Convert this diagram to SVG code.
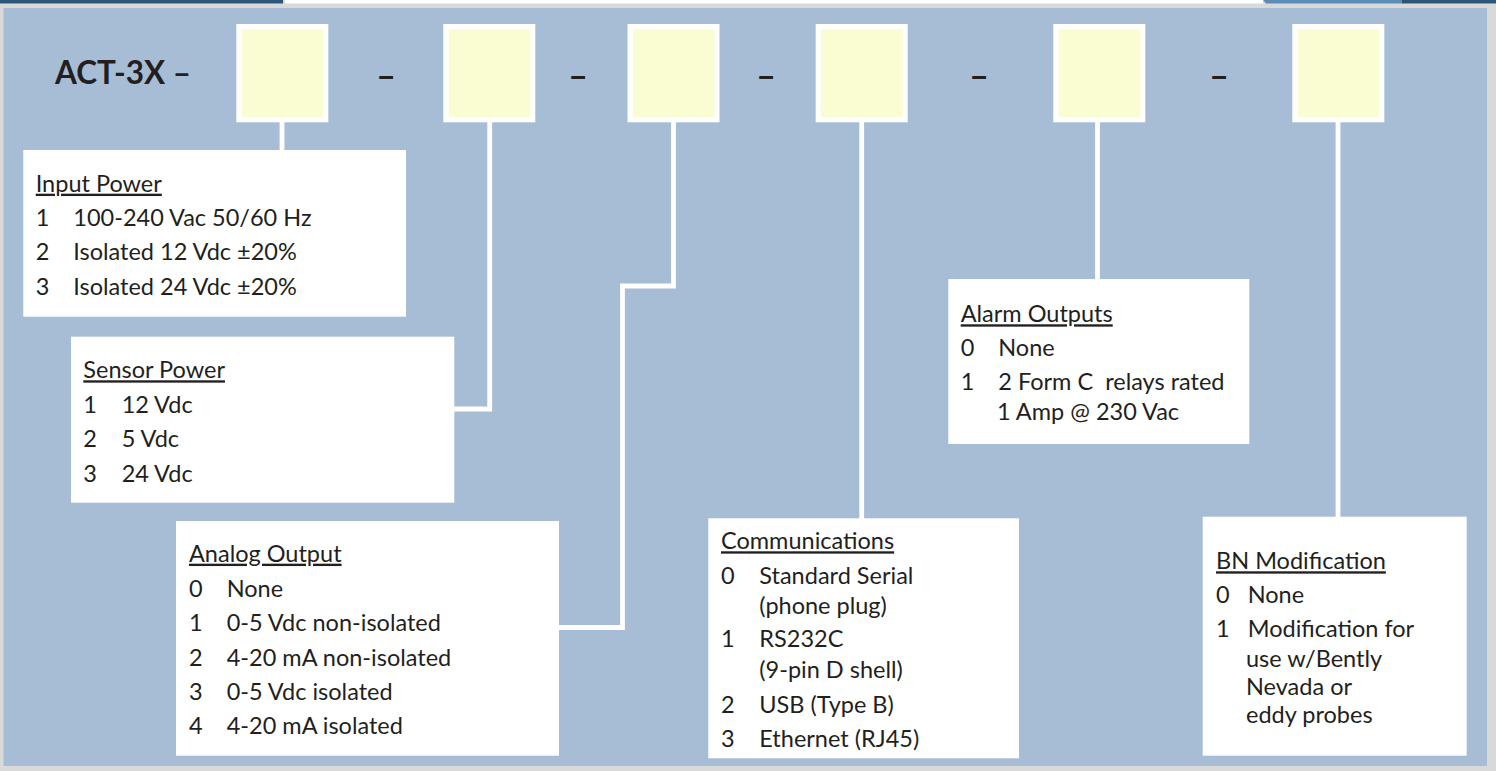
<svg xmlns="http://www.w3.org/2000/svg" width="1496" height="771" viewBox="0 0 1496 771">
<style>
.t{font-family:Lato,"Liberation Sans",sans-serif;font-size:23.5px;fill:#231f20}
.h{text-decoration:underline}
.b{font-family:Lato,"Liberation Sans",sans-serif;font-weight:bold;fill:#231f20}
.code{fill:#ffffff}
.slot{fill:#fafcd2}
.box{fill:#ffffff}
.con{fill:none;stroke:#ffffff;stroke-width:4.8}
</style>
<rect x="0" y="0" width="1496" height="771" fill="#d9d9d9"/>
<rect x="0" y="0" width="283" height="3.5" fill="#2d5577"/>
<rect x="285" y="0" width="978" height="3.5" fill="#ffffff"/>
<polygon points="1263,0 1402,0 1402,3.5 1266,3.5" fill="#5b8db8"/>
<rect x="1402" y="0" width="94" height="3.5" fill="#2d5577"/>
<rect x="3.5" y="8" width="1483.5" height="758" fill="#a7bdd5"/>
<text class="b" x="55" y="84" font-size="31.5">ACT-3X –</text>
<g id="dashes" class="b" font-size="34" text-anchor="middle">
<text x="386" y="88">–</text>
<text x="578" y="88">–</text>
<text x="766" y="88">–</text>
<text x="979" y="88">–</text>
<text x="1219" y="88">–</text>
</g>
<g id="connectors">
<path class="con" d="M282,120 V152"/>
<path class="con" d="M489.7,120 V409 H452"/>
<path class="con" d="M673.5,120 V286 H622.5 V627.5 H557"/>
<path class="con" d="M861.7,120 V520"/>
<path class="con" d="M1097.5,120 V281"/>
<path class="con" d="M1338,113 V519"/>
</g>
<g id="slot1"><rect class="code" x="236.3" y="24" width="92" height="98.3"/><rect class="slot" x="241.7" y="29.3" width="81.6" height="88"/></g>
<g id="slot2"><rect class="code" x="443.3" y="24" width="92" height="98.3"/><rect class="slot" x="448.7" y="29.3" width="81.6" height="88"/></g>
<g id="slot3"><rect class="code" x="627.5" y="24" width="92" height="98.3"/><rect class="slot" x="632.9" y="29.3" width="81.6" height="88"/></g>
<g id="slot4"><rect class="code" x="815.7" y="24" width="92" height="98.3"/><rect class="slot" x="821.1" y="29.3" width="81.6" height="88"/></g>
<g id="slot5"><rect class="code" x="1053.3" y="24" width="92" height="98.3"/><rect class="slot" x="1058.7" y="29.3" width="81.6" height="88"/></g>
<g id="slot6"><rect class="code" x="1292.3" y="24" width="92" height="98.3"/><rect class="slot" x="1297.7" y="29.3" width="81.6" height="88"/></g>
<g id="input-power">
<rect class="box" x="23.3" y="150" width="382.7" height="166.7"/>
<text class="t h" x="35.7" y="191.7">Input Power</text>
<text class="t" x="35.7" y="226">1</text><text class="t" x="73.3" y="226">100-240 Vac 50/60 Hz</text>
<text class="t" x="35.7" y="260">2</text><text class="t" x="73.3" y="260">Isolated 12 Vdc ±20%</text>
<text class="t" x="35.7" y="295">3</text><text class="t" x="73.3" y="295">Isolated 24 Vdc ±20%</text>
</g>
<g id="sensor-power">
<rect class="box" x="71" y="336.7" width="383.3" height="166"/>
<text class="t h" x="83.3" y="378.3">Sensor Power</text>
<text class="t" x="83.3" y="412.7">1</text><text class="t" x="121.7" y="412.7">12 Vdc</text>
<text class="t" x="83.3" y="446.7">2</text><text class="t" x="121.7" y="446.7">5 Vdc</text>
<text class="t" x="83.3" y="481.7">3</text><text class="t" x="121.7" y="481.7">24 Vdc</text>
</g>
<g id="analog-output">
<rect class="box" x="176" y="521" width="383" height="234.7"/>
<text class="t h" x="189" y="561.7">Analog Output</text>
<text class="t" x="189" y="596.7">0</text><text class="t" x="226.7" y="596.7">None</text>
<text class="t" x="189" y="630.5">1</text><text class="t" x="226.7" y="630.5">0-5 Vdc non-isolated</text>
<text class="t" x="189" y="665.5">2</text><text class="t" x="226.7" y="665.5">4-20 mA non-isolated</text>
<text class="t" x="189" y="700">3</text><text class="t" x="226.7" y="700">0-5 Vdc isolated</text>
<text class="t" x="189" y="734">4</text><text class="t" x="226.7" y="734">4-20 mA isolated</text>
</g>
<g id="communications">
<rect class="box" x="708.3" y="518.3" width="310.7" height="240"/>
<text class="t h" x="721" y="549.3">Communications</text>
<text class="t" x="721" y="584">0</text><text class="t" x="759.3" y="584">Standard Serial</text>
<text class="t" x="759.3" y="613.5">(phone plug)</text>
<text class="t" x="721" y="647.3">1</text><text class="t" x="759.3" y="647.3">RS232C</text>
<text class="t" x="759.3" y="677.7">(9-pin D shell)</text>
<text class="t" x="721" y="713.3">2</text><text class="t" x="759.3" y="713.3">USB (Type B)</text>
<text class="t" x="721" y="747.3">3</text><text class="t" x="759.3" y="747.3">Ethernet (RJ45)</text>
</g>
<g id="alarm-outputs">
<rect class="box" x="948.3" y="279" width="301" height="165"/>
<text class="t h" x="960.7" y="322.3">Alarm Outputs</text>
<text class="t" x="960.7" y="356">0</text><text class="t" x="998.3" y="356">None</text>
<text class="t" x="960.7" y="390">1</text><text class="t" x="998.3" y="390">2 Form C&#160; relays rated</text>
<text class="t" x="997" y="420">1 Amp @ 230 Vac</text>
</g>
<g id="bn-modification">
<rect class="box" x="1202.7" y="516.7" width="264" height="239"/>
<text class="t h" x="1216" y="569.3">BN Modification</text>
<text class="t" x="1216" y="602.7">0</text><text class="t" x="1247.7" y="602.7">None</text>
<text class="t" x="1216" y="636.7">1</text><text class="t" x="1247.7" y="636.7">Modification for</text>
<text class="t" x="1246" y="666.7">use w/Bently</text>
<text class="t" x="1246" y="695">Nevada or</text>
<text class="t" x="1246" y="723.3">eddy probes</text>
</g>
</svg>
